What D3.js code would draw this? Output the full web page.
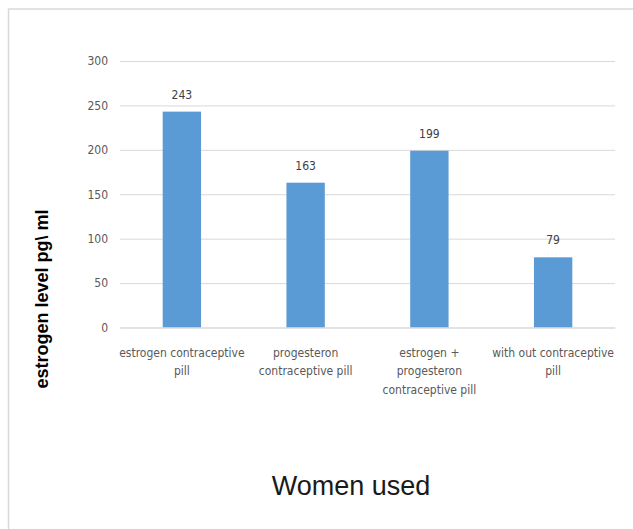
<!DOCTYPE html>
<html><head><meta charset="utf-8">
<script src="https://cdn.jsdelivr.net/npm/d3@7"></script>
<style>
html,body{margin:0;padding:0;background:#fff;}
svg{display:block;}
</style></head>
<body>
<script>
const categories = [
  "estrogen contraceptive\npill",
  "progesteron\ncontraceptive pill",
  "estrogen +\nprogesteron\ncontraceptive pill",
  "with out contraceptive\npill"
];
const values = [243, 163, 199, 79];
const yTicks = [0, 50, 100, 150, 200, 250, 300];
const yTitle = "estrogen level pg\\ ml";
const xTitle = "Women used";

const W = 633, H = 529;
const narrow = "'Liberation Sans Narrow','Arial Narrow','DejaVu Sans Condensed',sans-serif";

const svg = d3.select("body").append("svg").attr("width", W).attr("height", H);

// frame
svg.append("path")
  .attr("d", `M${W + 5},9 H8.5 V${H + 5}`)
  .attr("fill", "none").attr("stroke", "#d9d9d9").attr("stroke-width", 1.5);

const x = d3.scaleBand().domain(categories).range([120, 615]).paddingInner(0.69).paddingOuter(0.345);
const y = d3.scaleLinear().domain([0, 300]).range([327.5, 61]);

// gridlines
const yAxis = d3.axisLeft(y).tickValues(yTicks).tickSize(-(615 - 120)).tickPadding(12);
const gy = svg.append("g").attr("transform", "translate(120,0)").call(yAxis);
gy.select(".domain").remove();
gy.selectAll(".tick line").attr("stroke", "#d9d9d9").attr("stroke-width", 1);
gy.selectAll(".tick text").attr("fill", "#595959").style("font-family", narrow).style("font-size", "12px");

// bars
svg.append("g").selectAll("rect").data(values).join("rect")
  .attr("x", (d, i) => x(categories[i]))
  .attr("width", x.bandwidth())
  .attr("y", d => y(d))
  .attr("height", d => y(0) - y(d))
  .attr("fill", "#5b9bd5");

// value labels
svg.append("g").selectAll("text").data(values).join("text")
  .attr("x", (d, i) => x(categories[i]) + x.bandwidth() / 2)
  .attr("y", d => y(d) - 13)
  .attr("text-anchor", "middle")
  .attr("fill", "#404040")
  .style("font-family", narrow).style("font-size", "12px")
  .text(d => d);

// category axis
const xAxis = d3.axisBottom(x).tickSize(0).tickFormat("");
const gx = svg.append("g").attr("transform", `translate(0,${y(0)})`).call(xAxis);
gx.select(".domain").attr("stroke", "#d9d9d9");
gx.selectAll(".tick").each(function (d) {
  const t = d3.select(this).append("text")
    .attr("text-anchor", "middle").attr("fill", "#595959")
    .style("font-family", narrow).style("font-size", "12px");
  d.split("\n").forEach((line, i) => {
    t.append("tspan").attr("x", 0).attr("y", 29 + i * 18.5).text(line);
  });
});

// y title
svg.append("text")
  .attr("transform", "translate(48,299) rotate(-90)")
  .attr("text-anchor", "middle")
  .attr("fill", "#000")
  .style("font-family", "'Liberation Sans',Arial,sans-serif")
  .style("font-weight", "bold").style("font-size", "18px")
  .text(yTitle);

// x title
svg.append("text")
  .attr("x", 351).attr("y", 495)
  .attr("text-anchor", "middle")
  .attr("fill", "#1a1a1a")
  .style("font-family", "'Liberation Sans',Arial,sans-serif")
  .style("font-size", "27px")
  .text(xTitle);
</script>
</body></html>
